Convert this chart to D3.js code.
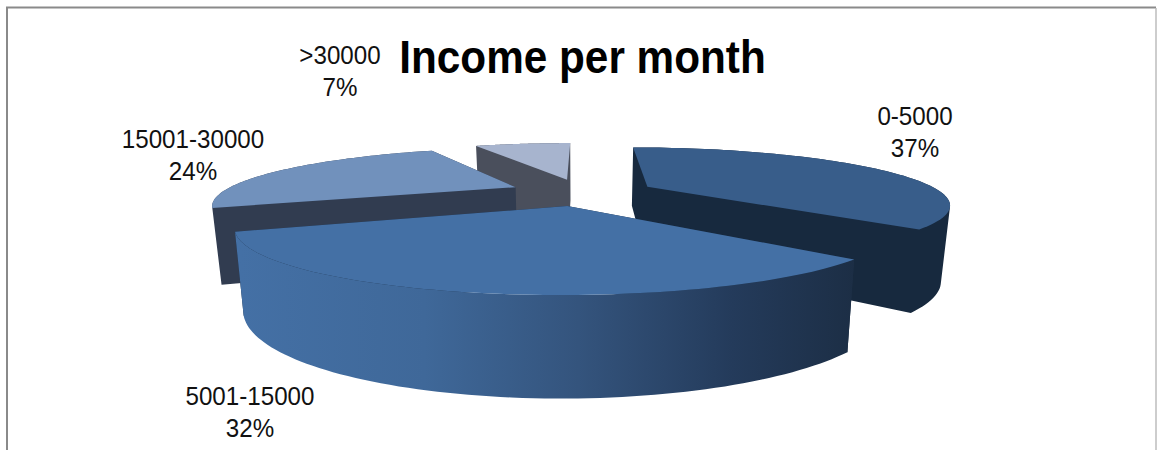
<!DOCTYPE html>
<html>
<head>
<meta charset="utf-8">
<script src="https://cdn.jsdelivr.net/npm/d3@7/dist/d3.min.js"></script>
<style>
  html, body { margin: 0; padding: 0; background: #fff; }
  svg { display: block; }
  text { font-family: "Liberation Sans", Arial, sans-serif; fill: #111; }
</style>
</head>
<body>
<svg id="chart" width="1157" height="450"></svg>
<script>
// Income brackets and their share of respondents
const categories = ["0-5000", "5001-15000", "15001-30000", ">30000"];
const shares = [37, 32, 24, 7];
const chartTitle = "Income per month";

// Slice appearance
const topColors = ["#385d8a", "#4470a5", "#7191bc", "#a7b4ce"];
const wallColors = ["#17293e", "url(#frontWall)", "#313c50", "#4a4f5c"];

// Label placement (centre x, first baseline y)
const labelAnchors = [[915, 125], [250, 405], [193, 148], [340, 64]];

const width = 1157, height = 450;
const svg = d3.select("#chart");

// Perspective view of a pie lying on a plane
const centerX = 582, centerY = 192;
const radiusPx = 293, depthPx = 53.3;
const viewDistance = 3.5, explode = 0.25, floorShrink = 0.975;

const perspective = v => 1 / (1 - v / viewDistance);
const wallHeight = s => 15 + 57 * s;
function project(u, v, onFloor) {
  const s = perspective(v);
  return [
    centerX + radiusPx * u * s * (onFloor ? floorShrink : 1),
    centerY + depthPx * v * s + (onFloor ? wallHeight(s) : 0)
  ];
}

const pieLayout = d3.pie().sort(null).value(d => d);
const arcs = pieLayout(shares);
const line = d3.line();

function rimPoint(angle, offset) {
  return [Math.sin(angle) + offset[0], -Math.cos(angle) + offset[1]];
}

const defs = svg.append("defs");
const grad = defs.append("linearGradient")
  .attr("id", "frontWall")
  .attr("gradientUnits", "userSpaceOnUse")
  .attr("x1", 240).attr("x2", 855).attr("y1", 0).attr("y2", 0);
[[0, "#4470a5"], [0.3, "#3f6899"], [0.55, "#34547d"], [0.8, "#243b5b"], [1, "#1c2e45"]]
  .forEach(([o, c]) => grad.append("stop").attr("offset", o).attr("stop-color", c));

// Chart frame
svg.append("path")
  .attr("d", `M7,${height}V7.5H1156`)
  .attr("fill", "none").attr("stroke", "#8a8a8a").attr("stroke-width", 2);
svg.append("line")
  .attr("x1", 1156).attr("x2", 1156).attr("y1", 8).attr("y2", height)
  .attr("stroke", "#bdbdbd").attr("stroke-width", 1.5);

// Back slices first, the front slice last
const drawOrder = [3, 2, 0, 1];
const stepCount = 80;

// Wall between two plan points, wound the same way every time so that
// neighbouring quads merge into one filled shape without seams
function wallQuad(p, q) {
  const quad = [
    project(p[0], p[1], false), project(q[0], q[1], false),
    project(q[0], q[1], true), project(p[0], p[1], true)
  ];
  if (d3.polygonArea(quad) < 0) quad.reverse();
  return line(quad) + "Z";
}

drawOrder.forEach(i => {
  const a = arcs[i];
  const mid = (a.startAngle + a.endAngle) / 2;
  const offset = [Math.sin(mid) * explode, -Math.cos(mid) * explode];
  const angles = d3.range(stepCount + 1)
    .map(k => a.startAngle + (a.endAngle - a.startAngle) * k / stepCount);
  const rim = angles.map(t => rimPoint(t, offset));
  const apex = offset;
  const g = svg.append("g").attr("class", "slice");

  // Cut faces along the two radii plus the curved outer wall
  const cutFaces = wallQuad(apex, rim[0]) + wallQuad(apex, rim[rim.length - 1]);
  const outerWall = d3.pairs(rim).map(([p, q]) => wallQuad(p, q)).join("");
  if (i === 1) {
    // The front slice shades its outer wall, so its faces get a plain fill
    g.append("path").attr("d", cutFaces).attr("fill", "#1c2e45");
    g.append("path").attr("d", outerWall).attr("fill", wallColors[i]);
  } else {
    g.append("path").attr("d", cutFaces + outerWall).attr("fill", wallColors[i]);
  }
  // Top face
  const topPts = [apex].concat(rim).map(p => project(p[0], p[1], false));
  g.append("path").attr("d", line(topPts) + "Z").attr("fill", topColors[i]);
});

// Title, set condensed
svg.append("text")
  .attr("transform", "translate(582.5,73) scale(0.9,1)")
  .attr("text-anchor", "middle")
  .attr("font-size", 47).attr("font-weight", "bold")
  .style("fill", "#000")
  .text(chartTitle);

// Category and percentage labels, set condensed
const total = d3.sum(shares);
categories.forEach((name, i) => {
  const [x, y] = labelAnchors[i];
  const t = svg.append("text")
    .attr("transform", `translate(${x},${y}) scale(0.93,1)`)
    .attr("text-anchor", "middle").attr("font-size", 26);
  t.append("tspan").attr("x", 0).attr("y", 0).text(name);
  t.append("tspan").attr("x", 0).attr("y", 32)
    .text(d3.format(".0%")(shares[i] / total));
});
</script>
</body>
</html>
